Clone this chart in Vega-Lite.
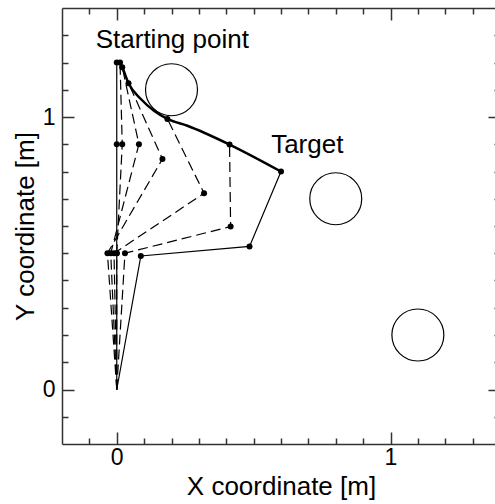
{
  "$schema": "https://vega.github.io/schema/vega-lite/v6.json",
  "width": 438,
  "height": 436,
  "autosize": "none",
  "padding": {"left": 62, "top": 8, "right": 0, "bottom": 60},
  "background": "white",
  "config": {
    "view": {"stroke": null},
    "font": "Liberation Sans",
    "axis": {
      "labelFont": "Liberation Sans",
      "titleFont": "Liberation Sans",
      "labelFontSize": 23,
      "titleFontSize": 26,
      "titleFontWeight": "normal",
      "labelColor": "black",
      "titleColor": "black",
      "domainColor": "#333",
      "domainWidth": 1.5,
      "tickColor": "#333",
      "tickWidth": 1.5,
      "grid": false
    }
  },
  "datasets": {
    "obstacles": [
      {"x": 0.2, "y": 1.1},
      {"x": 0.8, "y": 0.7},
      {"x": 1.1, "y": 0.2}
    ],
    "arm": [
      {"config": "start", "joint": 0, "x": 0, "y": 0},
      {"config": "start", "joint": 1, "x": 0, "y": 0.5},
      {"config": "start", "joint": 2, "x": 0, "y": 0.9},
      {"config": "start", "joint": 3, "x": 0, "y": 1.2},
      {"config": "c1", "joint": 0, "x": 0, "y": 0},
      {"config": "c1", "joint": 1, "x": 0, "y": 0.5},
      {"config": "c1", "joint": 2, "x": 0.02, "y": 0.9},
      {"config": "c1", "joint": 3, "x": 0.012, "y": 1.2},
      {"config": "c2", "joint": 0, "x": 0, "y": 0},
      {"config": "c2", "joint": 1, "x": -0.022, "y": 0.5},
      {"config": "c2", "joint": 2, "x": 0.081, "y": 0.9},
      {"config": "c2", "joint": 3, "x": 0.02, "y": 1.183},
      {"config": "c3", "joint": 0, "x": 0, "y": 0},
      {"config": "c3", "joint": 1, "x": -0.034, "y": 0.5},
      {"config": "c3", "joint": 2, "x": 0.167, "y": 0.846},
      {"config": "c3", "joint": 3, "x": 0.043, "y": 1.124},
      {"config": "c4", "joint": 0, "x": 0, "y": 0},
      {"config": "c4", "joint": 1, "x": -0.01, "y": 0.5},
      {"config": "c4", "joint": 2, "x": 0.319, "y": 0.72},
      {"config": "c4", "joint": 3, "x": 0.185, "y": 0.993},
      {"config": "c5", "joint": 0, "x": 0, "y": 0},
      {"config": "c5", "joint": 1, "x": 0.03, "y": 0.5},
      {"config": "c5", "joint": 2, "x": 0.416, "y": 0.598},
      {"config": "c5", "joint": 3, "x": 0.412, "y": 0.899},
      {"config": "final", "joint": 0, "x": 0, "y": 0},
      {"config": "final", "joint": 1, "x": 0.088, "y": 0.49},
      {"config": "final", "joint": 2, "x": 0.485, "y": 0.525},
      {"config": "final", "joint": 3, "x": 0.6, "y": 0.8}
    ],
    "path": [
      {"step": 0, "x": 0, "y": 1.2},
      {"step": 1, "x": 0.012, "y": 1.2},
      {"step": 2, "x": 0.02, "y": 1.183},
      {"step": 3, "x": 0.043, "y": 1.124},
      {"step": 4, "x": 0.088, "y": 1.066},
      {"step": 5, "x": 0.136, "y": 1.023},
      {"step": 6, "x": 0.185, "y": 0.993},
      {"step": 7, "x": 0.258, "y": 0.968},
      {"step": 8, "x": 0.412, "y": 0.899},
      {"step": 9, "x": 0.6, "y": 0.8}
    ],
    "labels": [
      {"text": "Starting point", "x": 0.203, "y": 1.252},
      {"text": "Target", "x": 0.696, "y": 0.867}
    ]
  },
  "resolve": {"axis": {"x": "independent", "y": "independent"}},
  "layer": [
    {
      "data": {"name": "obstacles"},
      "mark": {"type": "point", "shape": "circle", "size": 2700, "filled": false, "stroke": "black", "strokeWidth": 1.2, "opacity": 1},
      "encoding": {
        "x": {
          "field": "x", "type": "quantitative",
          "scale": {"domain": [-0.2, 1.4], "nice": false, "zero": false},
          "axis": {
            "orient": "bottom",
            "title": "X coordinate [m]",
            "values": [0, 1],
            "format": "d",
            "tickSize": -12,
            "labelPadding": 14,
            "titlePadding": 4
          }
        },
        "y": {
          "field": "y", "type": "quantitative",
          "scale": {"domain": [-0.2, 1.4], "nice": false, "zero": false},
          "axis": {
            "orient": "left",
            "title": "Y coordinate [m]",
            "values": [0, 1],
            "format": "d",
            "tickSize": -12,
            "labelPadding": 19,
            "titlePadding": 4
          }
        }
      }
    },
    {
      "data": {"name": "arm"},
      "transform": [{"filter": "datum.config == 'start' || datum.config == 'final'"}],
      "mark": {"type": "line", "color": "black", "strokeWidth": 1.2},
      "encoding": {
        "x": {
          "field": "x", "type": "quantitative",
          "axis": {"orient": "bottom", "title": null, "labels": false, "domain": false,
            "values": [-0.1, 0.1, 0.2, 0.3, 0.4, 0.5, 0.6, 0.7, 0.8, 0.9, 1.1, 1.2, 1.3],
            "tickSize": -6}
        },
        "y": {
          "field": "y", "type": "quantitative",
          "axis": {"orient": "left", "title": null, "labels": false, "domain": false,
            "values": [-0.1, 0.1, 0.2, 0.3, 0.4, 0.5, 0.6, 0.7, 0.8, 0.9, 1.1, 1.2, 1.3],
            "tickSize": -6}
        },
        "detail": {"field": "config"},
        "order": {"field": "joint"}
      }
    },
    {
      "data": {"name": "arm"},
      "transform": [{"filter": "datum.config != 'start' && datum.config != 'final'"}],
      "mark": {"type": "line", "color": "black", "strokeWidth": 1.2, "strokeDash": [10, 5]},
      "encoding": {
        "x": {
          "field": "x", "type": "quantitative",
          "axis": {"orient": "top", "title": null, "labels": false,
            "values": [0, 1], "tickSize": -12}
        },
        "y": {
          "field": "y", "type": "quantitative",
          "axis": {"orient": "right", "title": null, "labels": false,
            "values": [0, 1], "tickSize": -12}
        },
        "detail": {"field": "config"},
        "order": {"field": "joint"}
      }
    },
    {
      "data": {"name": "path"},
      "mark": {"type": "line", "color": "black", "strokeWidth": 2.5, "interpolate": "monotone"},
      "encoding": {
        "x": {
          "field": "x", "type": "quantitative",
          "axis": {"orient": "top", "title": null, "labels": false, "domain": false,
            "values": [-0.1, 0.1, 0.2, 0.3, 0.4, 0.5, 0.6, 0.7, 0.8, 0.9, 1.1, 1.2, 1.3],
            "tickSize": -6}
        },
        "y": {
          "field": "y", "type": "quantitative",
          "axis": {"orient": "right", "title": null, "labels": false, "domain": false,
            "values": [-0.1, 0.1, 0.2, 0.3, 0.4, 0.5, 0.6, 0.7, 0.8, 0.9, 1.1, 1.2, 1.3],
            "tickSize": -6}
        },
        "order": {"field": "step"}
      }
    },
    {
      "data": {"name": "arm"},
      "transform": [{"filter": "datum.joint > 0"}],
      "mark": {"type": "point", "shape": "circle", "filled": true, "color": "black", "size": 36, "opacity": 1},
      "encoding": {
        "x": {"field": "x", "type": "quantitative", "axis": null},
        "y": {"field": "y", "type": "quantitative", "axis": null}
      }
    },
    {
      "data": {"name": "labels"},
      "mark": {"type": "text", "font": "Liberation Sans", "fontSize": 26, "align": "center", "baseline": "alphabetic", "color": "black"},
      "encoding": {
        "x": {"field": "x", "type": "quantitative", "axis": null},
        "y": {"field": "y", "type": "quantitative", "axis": null},
        "text": {"field": "text"}
      }
    }
  ]
}
